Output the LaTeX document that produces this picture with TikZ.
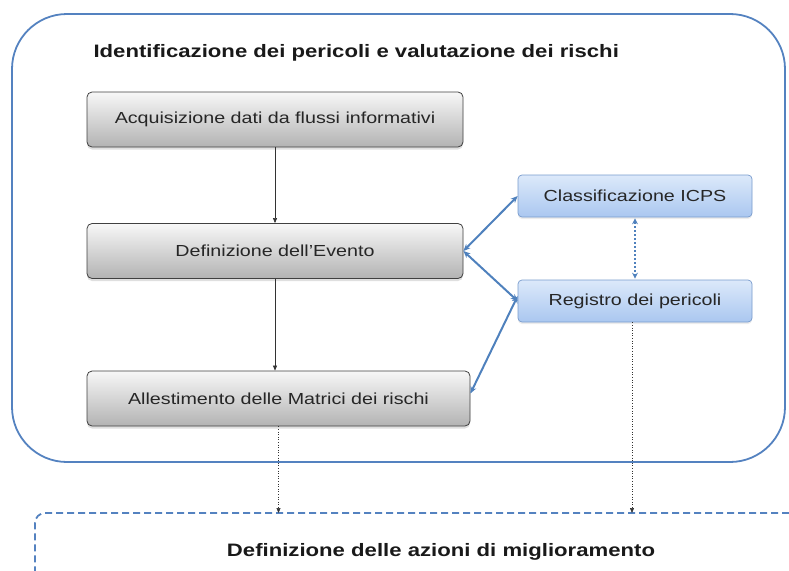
\documentclass[tikz,border=0pt]{standalone}
\usepackage{fontspec}
\setmainfont{Liberation Sans}[FakeStretch=1.23]
\usetikzlibrary{arrows.meta, positioning, shadows}
\definecolor{bluebordo}{RGB}{84,130,192}
\definecolor{bluefreccia}{RGB}{79,129,189}
\definecolor{bluechiaro}{RGB}{220,233,250}
\definecolor{blumedio}{RGB}{170,199,240}
\definecolor{bluelinea}{RGB}{120,155,205}

\begin{document}
\begin{tikzpicture}[x=1pt, y=-1pt,
	boxgrigio/.style={draw=black!75, line width=0.8pt, rounded corners=5pt, top color=black!3, bottom color=black!30,
		minimum height=55pt, text=black!85, font=\fontsize{16}{19}\selectfont,
		drop shadow={opacity=0.25, shadow xshift=0pt, shadow yshift=-2.5pt}},
	boxblu/.style={draw=bluelinea, line width=0.7pt, rounded corners=4pt, top color=bluechiaro, bottom color=blumedio,
		minimum width=234pt, minimum height=42pt, text=black!85, font=\fontsize{16}{19}\selectfont,
		drop shadow={opacity=0.15, shadow xshift=0pt, shadow yshift=-2pt}},
	frecciablu/.style={draw=bluefreccia, line width=2pt, {Stealth[length=7pt,width=6pt]}-{Stealth[length=7pt,width=6pt]}},
	freccianera/.style={draw=black!80, line width=0.6pt, -{Triangle[length=5pt,width=4pt]}},
	titolo/.style={font=\bfseries\fontsize{18}{21}\selectfont, text=black!90}
	]
	\useasboundingbox (0,0) rectangle (789,570);
	% outer frame
	\draw[bluebordo, line width=1.8pt, rounded corners=55pt] (12,14) rectangle (785,462);
	\node[titolo, anchor=base west] (identificazione) at (90,57) {Identificazione dei pericoli e valutazione dei rischi};
	% left column
	\node[boxgrigio, minimum width=376pt] (acquisizione) at (275,119.5) {Acquisizione dati da flussi informativi};
	\node[boxgrigio, minimum width=376pt] (evento) at (275,251) {Definizione dell'Evento};
	\node[boxgrigio, minimum width=383pt] (matrici) at (278.5,398.5) {Allestimento delle Matrici dei rischi};
	% right column
	\node[boxblu] (icps) at (635,196) {Classificazione ICPS};
	\node[boxblu] (registro) at (635,301) {Registro dei pericoli};
	% links
	\draw[freccianera] (acquisizione.south) -- (evento.north);
	\draw[freccianera] (evento.south) -- (evento.south |- matrici.north);
	\draw[frecciablu] (evento.east) -- (icps.west);
	\draw[frecciablu] (evento.east) -- (registro.west);
	\draw[frecciablu] ([yshift=5pt]matrici.east) -- ([yshift=5pt]registro.west);
	\draw[bluefreccia, line width=1.2pt, dash pattern=on 2pt off 2pt, {Stealth[length=6pt,width=6pt]}-{Stealth[length=6pt,width=6pt]}] ([yshift=-1pt]icps.south) -- ([yshift=1pt]registro.north);
	% lower frame
	\draw[bluebordo, line width=1.8pt, dash pattern=on 7pt off 4pt, rounded corners=10pt] (800,513) -- (35,513) -- (35,600);
	\node[titolo, anchor=base] (azioni) at (441,556) {Definizione delle azioni di miglioramento};
	\coordinate (finematrici) at (matrici.south |- 0,513);
	\coordinate (fineregistro) at ([xshift=-3pt]registro.south |- 0,513);
	\draw[freccianera, dotted] (matrici.south) -- (finematrici);
	\draw[freccianera, dotted] ([xshift=-3pt]registro.south) -- (fineregistro);
\end{tikzpicture}
\end{document}
